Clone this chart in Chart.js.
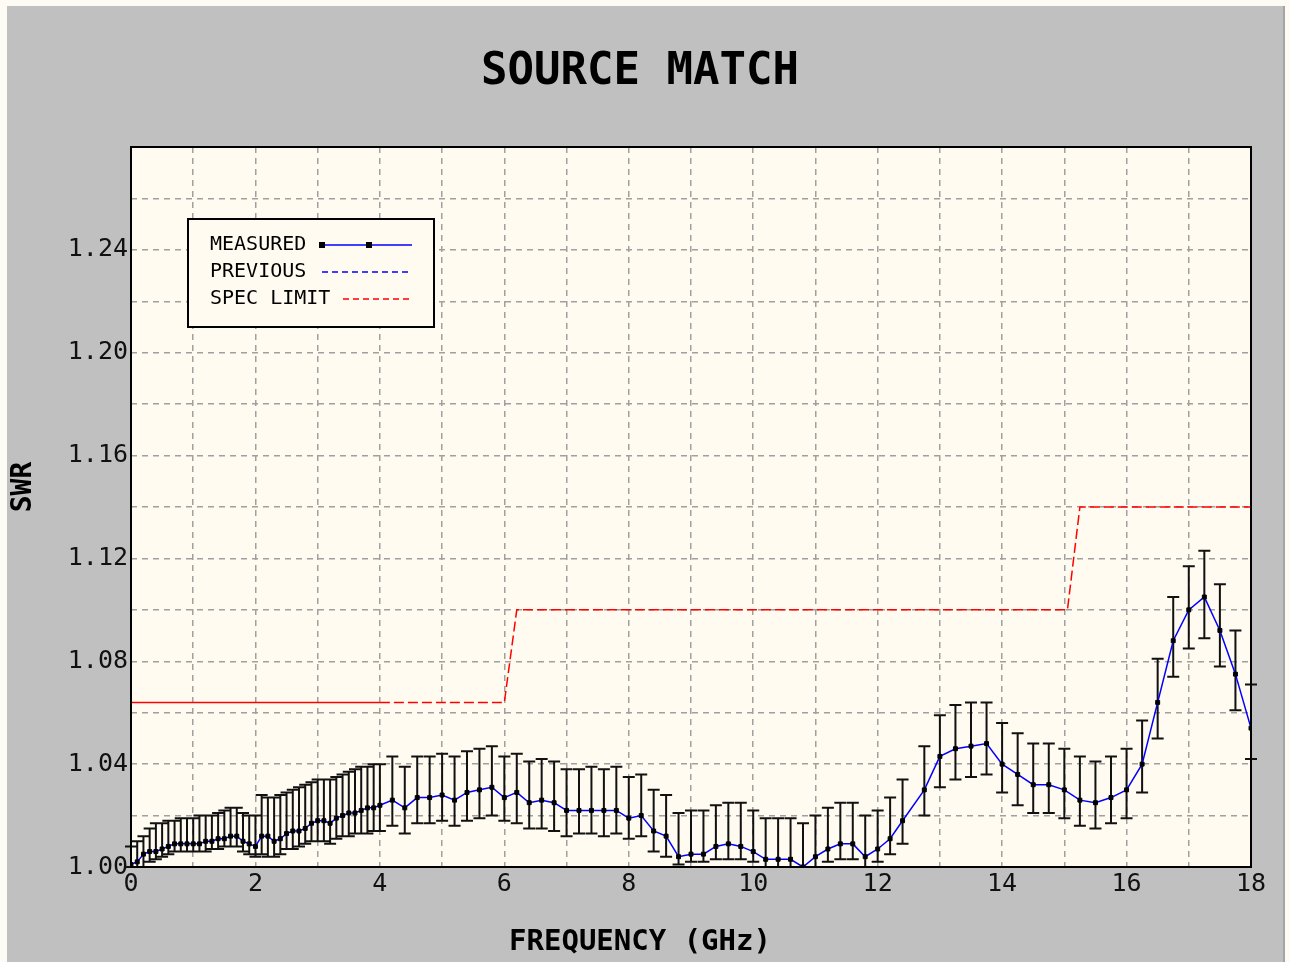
<!DOCTYPE html>
<html>
<head>
<meta charset="utf-8">
<title>Source Match</title>
<script src="https://cdn.jsdelivr.net/npm/chart.js@4.4.0/dist/chart.umd.min.js"></script>
<style>
  html, body { margin: 0; padding: 0; background: #fdfbf3; }
  #wrap { width: 1290px; height: 962px; }
</style>
</head>
<body>
<div id="wrap"><canvas id="chart" width="1290" height="962"></canvas></div>
<script>
// frequency points (GHz)
const freqGHz = [
  0.0, 0.1, 0.2, 0.3, 0.4, 0.5, 0.6, 0.7, 0.8, 0.9,
  1.0, 1.1, 1.2, 1.3, 1.4, 1.5, 1.6, 1.7, 1.8, 1.9,
  2.0, 2.1, 2.2, 2.3, 2.4, 2.5, 2.6, 2.7, 2.8, 2.9,
  3.0, 3.1, 3.2, 3.3, 3.4, 3.5, 3.6, 3.7, 3.8, 3.9,
  4.0, 4.2, 4.4, 4.6, 4.8, 5.0, 5.2, 5.4, 5.6, 5.8,
  6.0, 6.2, 6.4, 6.6, 6.8, 7.0, 7.2, 7.4, 7.6, 7.8,
  8.0, 8.2, 8.4, 8.6, 8.8, 9.0, 9.2, 9.4, 9.6, 9.8,
  10.0, 10.2, 10.4, 10.6, 10.8, 11.0, 11.2, 11.4, 11.6, 11.8,
  12.0, 12.2, 12.4, 12.75, 13.0, 13.25, 13.5, 13.75, 14.0, 14.25,
  14.5, 14.75, 15.0, 15.25, 15.5, 15.75, 16.0, 16.25, 16.5, 16.75,
  17.0, 17.25, 17.5, 17.75, 18.0
]
// measured SWR
const swrMeasured = [
  1.001, 1.002, 1.005, 1.006, 1.006, 1.007, 1.008, 1.009, 1.009, 1.009,
  1.009, 1.009, 1.010, 1.010, 1.011, 1.011, 1.012, 1.012, 1.010, 1.009,
  1.008, 1.012, 1.012, 1.010, 1.011, 1.013, 1.014, 1.014, 1.015, 1.017,
  1.018, 1.018, 1.017, 1.019, 1.020, 1.021, 1.021, 1.022, 1.023, 1.023,
  1.024, 1.026, 1.023, 1.027, 1.027, 1.028, 1.026, 1.029, 1.030, 1.031,
  1.027, 1.029, 1.025, 1.026, 1.025, 1.022, 1.022, 1.022, 1.022, 1.022,
  1.019, 1.020, 1.014, 1.012, 1.004, 1.005, 1.005, 1.008, 1.009, 1.008,
  1.006, 1.003, 1.003, 1.003, 1.000, 1.004, 1.007, 1.009, 1.009, 1.004,
  1.007, 1.011, 1.018, 1.030, 1.043, 1.046, 1.047, 1.048, 1.040, 1.036,
  1.032, 1.032, 1.030, 1.026, 1.025, 1.027, 1.030, 1.040, 1.064, 1.088,
  1.100, 1.105, 1.092, 1.075, 1.054
]
// upper end of the uncertainty bar
const swrHigh = [
  1.008, 1.010, 1.012, 1.015, 1.017, 1.017, 1.018, 1.018, 1.019, 1.019,
  1.019, 1.020, 1.020, 1.020, 1.021, 1.022, 1.023, 1.023, 1.021, 1.020,
  1.020, 1.028, 1.027, 1.027, 1.028, 1.029, 1.030, 1.031, 1.032, 1.033,
  1.034, 1.034, 1.034, 1.035, 1.036, 1.037, 1.038, 1.039, 1.039, 1.040,
  1.040, 1.043, 1.039, 1.043, 1.043, 1.044, 1.043, 1.045, 1.046, 1.047,
  1.043, 1.044, 1.041, 1.042, 1.041, 1.038, 1.038, 1.039, 1.038, 1.039,
  1.035, 1.036, 1.030, 1.028, 1.021, 1.022, 1.022, 1.024, 1.025, 1.025,
  1.022, 1.019, 1.019, 1.019, 1.017, 1.020, 1.023, 1.025, 1.025, 1.020,
  1.022, 1.027, 1.034, 1.047, 1.059, 1.063, 1.064, 1.064, 1.056, 1.052,
  1.048, 1.048, 1.046, 1.043, 1.041, 1.043, 1.046, 1.057, 1.081, 1.105,
  1.117, 1.123, 1.110, 1.092, 1.071
]
// lower end of the uncertainty bar
const swrLow = [
  1.000, 1.000, 1.000, 1.002, 1.003, 1.004, 1.005, 1.006, 1.006, 1.006,
  1.006, 1.006, 1.006, 1.007, 1.007, 1.008, 1.008, 1.008, 1.006, 1.005,
  1.004, 1.005, 1.004, 1.004, 1.005, 1.007, 1.007, 1.008, 1.009, 1.010,
  1.010, 1.010, 1.009, 1.011, 1.012, 1.012, 1.013, 1.013, 1.013, 1.014,
  1.014, 1.016, 1.013, 1.017, 1.017, 1.018, 1.016, 1.018, 1.019, 1.020,
  1.018, 1.017, 1.015, 1.015, 1.014, 1.012, 1.013, 1.013, 1.012, 1.013,
  1.011, 1.012, 1.006, 1.004, 1.001, 1.002, 1.002, 1.003, 1.003, 1.003,
  1.002, 1.000, 1.000, 1.000, 1.000, 1.000, 1.002, 1.003, 1.003, 1.000,
  1.002, 1.005, 1.009, 1.020, 1.031, 1.034, 1.035, 1.036, 1.029, 1.024,
  1.021, 1.021, 1.019, 1.016, 1.015, 1.017, 1.019, 1.029, 1.050, 1.074,
  1.085, 1.089, 1.078, 1.061, 1.042
]
// spec limit steps
const specFreq = [0, 4, 6.0, 6.2, 15.05, 15.25, 18]
const specSwr = [1.064, 1.064, 1.064, 1.100, 1.100, 1.140, 1.140]

const xTickLabels = ['0', '2', '4', '6', '8', '10', '12', '14', '16', '18']
const yTickLabels = ['1.00', '1.04', '1.08', '1.12', '1.16', '1.20', '1.24']

const chartTitle = 'SOURCE MATCH'
const xTitle = 'FREQUENCY (GHz)'
const yTitle = 'SWR'

const MONO = '"DejaVu Sans Mono", "Liberation Mono", monospace'

// grey panel, cream plot area, titles (centred on the page, not on the plot)
const panel = {
  id: 'panel',
  beforeDraw(chart) {
    const { ctx, chartArea: a } = chart
    ctx.save()
    ctx.fillStyle = '#fdfbf3'
    ctx.fillRect(0, 0, chart.width, chart.height)
    ctx.fillStyle = '#c0c0c0'
    ctx.fillRect(7, 6, 1277, chart.height - 6)
    ctx.fillStyle = '#a4a4a4'
    ctx.fillRect(1283, 6, 2, chart.height - 6)
    ctx.fillStyle = '#fffbf0'
    ctx.fillRect(a.left, a.top, a.right - a.left, a.bottom - a.top)

    ctx.fillStyle = '#000'
    ctx.textAlign = 'center'
    ctx.textBaseline = 'middle'
    ctx.font = 'bold 44px ' + MONO
    ctx.fillText(chartTitle, 640, 73)
    ctx.font = 'bold 29px ' + MONO
    ctx.fillText(xTitle, 640, 942)
    ctx.translate(24, 487)
    ctx.rotate(-Math.PI / 2)
    ctx.font = 'bold 28px ' + MONO
    ctx.fillText(yTitle, 0, 0)
    ctx.restore()
  },
  afterDatasetsDraw(chart) {
    const { ctx, chartArea: a } = chart
    ctx.save()
    ctx.strokeStyle = '#000'
    ctx.lineWidth = 2
    ctx.strokeRect(a.left, a.top, a.right - a.left, a.bottom - a.top)
    ctx.restore()
  }
}

// vertical uncertainty bars with caps
const errorBars = {
  id: 'errorBars',
  beforeDatasetsDraw(chart) {
    const { ctx, scales: { x, y } } = chart
    ctx.save()
    ctx.strokeStyle = '#111'
    ctx.lineWidth = 2
    ctx.beginPath()
    freqGHz.forEach((f, i) => {
      const px = x.getPixelForValue(f)
      const hi = y.getPixelForValue(swrHigh[i])
      const lo = y.getPixelForValue(swrLow[i])
      ctx.moveTo(px, hi); ctx.lineTo(px, lo)
      ctx.moveTo(px - 6, hi); ctx.lineTo(px + 6, hi)
      ctx.moveTo(px - 6, lo); ctx.lineTo(px + 6, lo)
    })
    ctx.stroke()
    ctx.restore()
  }
}

// legend box: text first, line sample after it
const boxLegend = {
  id: 'boxLegend',
  afterDraw(chart) {
    const { ctx, chartArea: a } = chart
    const ds = chart.data.datasets
    const bx = a.left + 57, by = a.top + 72, bw = 246, bh = 108
    ctx.save()
    ctx.fillStyle = '#fffbf0'
    ctx.fillRect(bx, by, bw, bh)
    ctx.strokeStyle = '#000'
    ctx.lineWidth = 2
    ctx.strokeRect(bx, by, bw, bh)
    ctx.font = '20px ' + MONO
    ctx.fillStyle = '#000'
    ctx.textBaseline = 'middle'
    const rows = [by + 26, by + 53, by + 80]
    ds.forEach((d, i) => ctx.fillText(d.label, bx + 22, rows[i]))

    ctx.lineWidth = 1.5
    ctx.strokeStyle = ds[0].borderColor
    ctx.beginPath(); ctx.moveTo(bx + 134, rows[0]); ctx.lineTo(bx + 224, rows[0]); ctx.stroke()
    ctx.fillStyle = '#000'
    ctx.fillRect(bx + 131, rows[0] - 3, 6, 6)
    ctx.fillRect(bx + 178, rows[0] - 3, 6, 6)

    ctx.setLineDash([6, 4])
    ctx.strokeStyle = ds[1].borderColor
    ctx.beginPath(); ctx.moveTo(bx + 134, rows[1]); ctx.lineTo(bx + 224, rows[1]); ctx.stroke()
    ctx.strokeStyle = ds[2].borderColor
    ctx.beginPath(); ctx.moveTo(bx + 155, rows[2]); ctx.lineTo(bx + 222, rows[2]); ctx.stroke()
    ctx.restore()
  }
}

new Chart(document.getElementById('chart'), {
  type: 'line',
  data: {
    datasets: [
      {
        label: 'MEASURED',
        data: freqGHz.map((f, i) => ({ x: f, y: swrMeasured[i] })),
        borderColor: '#0000ff',
        borderWidth: 1.5,
        pointStyle: 'rect',
        pointRadius: 2.8,
        pointBackgroundColor: '#000',
        pointBorderColor: '#000',
        pointBorderWidth: 1,
        tension: 0,
      },
      {
        label: 'PREVIOUS',
        data: [], // no previous data shown
        borderColor: '#0000ff',
        borderDash: [6, 4],
        pointRadius: 0,
      },
      {
        label: 'SPEC LIMIT',
        data: specFreq.map((f, i) => ({ x: f, y: specSwr[i] })),
        borderColor: '#ff0000',
        borderWidth: 1.5,
        pointRadius: 0,
        tension: 0,
        segment: { borderDash: c => c.p0.parsed.x < 4 ? [] : [10, 4] },
      },
    ]
  },
  options: {
    responsive: false,
    devicePixelRatio: 1,
    animation: false,
    layout: { padding: { left: 0, right: 39, top: 147, bottom: 0 } },
    plugins: {
      legend: { display: false },
      tooltip: { enabled: false },
      title: { display: false },
    },
    scales: {
      x: {
        type: 'linear',
        min: 0,
        max: 18,
        afterFit: s => { s.height = 95 },
        ticks: {
          stepSize: 1,
          autoSkip: false,
          maxRotation: 0,
          padding: 2,
          color: '#111',
          font: { family: MONO, size: 25 },
          callback: v => xTickLabels.includes(String(v)) ? String(v) : '',
        },
        grid: { color: '#a0a0a0', lineWidth: 1.5, drawTicks: false },
        border: { display: false, dash: [6, 5] },
      },
      y: {
        min: 1.0,
        max: 1.28,
        afterFit: s => { s.width = 131 },
        ticks: {
          stepSize: 0.02,
          autoSkip: false,
          padding: 3,
          color: '#111',
          font: { family: MONO, size: 25 },
          callback: v => {
            const s = Number(v).toFixed(2)
            return yTickLabels.includes(s) ? s : ''
          },
        },
        grid: { color: '#a0a0a0', lineWidth: 1.5, drawTicks: false },
        border: { display: false, dash: [6, 5] },
      },
    },
  },
  plugins: [panel, errorBars, boxLegend],
})
</script>
</body>
</html>
